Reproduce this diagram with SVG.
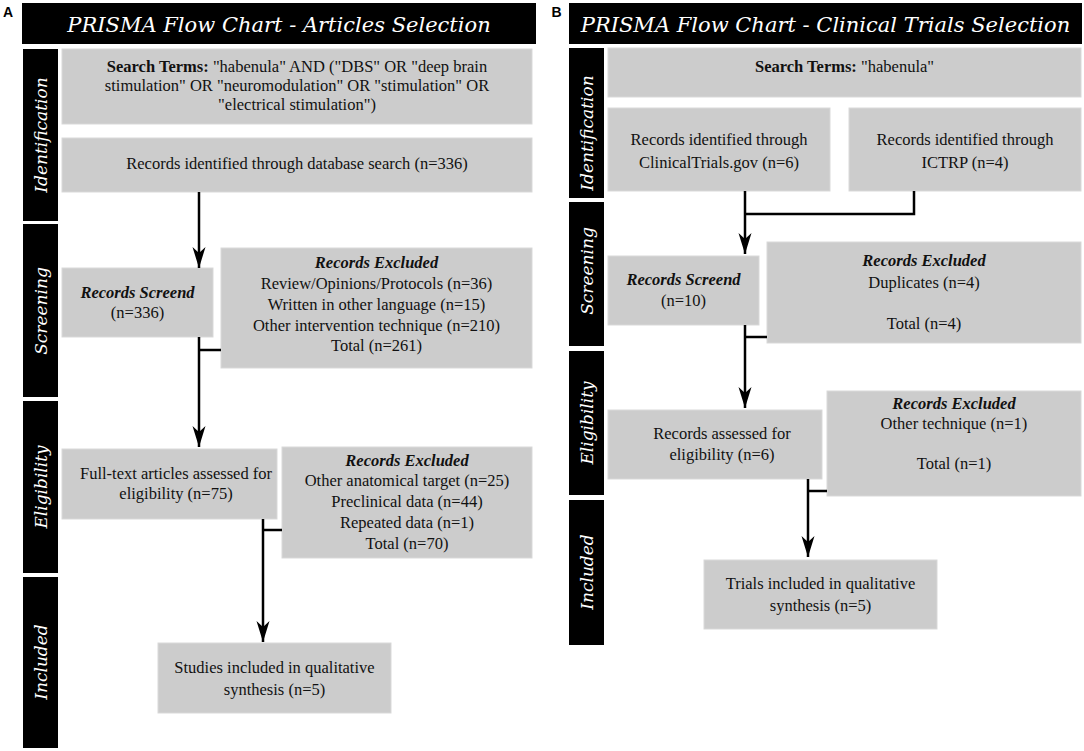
<svg xmlns="http://www.w3.org/2000/svg" width="1084" height="751" viewBox="0 0 1084 751">
<style>
.bg{fill:#ffffff}
.box{fill:#cccccc;stroke:#d9d9d9;stroke-width:1}
.bar{fill:#000000}
.t{font-family:"Liberation Serif","Times New Roman",serif;font-size:16.5px;fill:#111111;text-anchor:middle}
.b{font-weight:bold}
.h{font-weight:bold;font-style:italic}
.title{font-family:"DejaVu Serif",serif;font-style:italic;font-size:21px;fill:#ffffff;text-anchor:middle}
.side{font-family:"DejaVu Serif",serif;font-style:italic;font-size:17px;fill:#ffffff;text-anchor:middle}
.letter{font-family:"Liberation Sans",Arial,sans-serif;font-weight:bold;font-size:14px;fill:#000000;text-anchor:middle}
.conn{stroke:#000000;stroke-width:2.5;fill:none}
</style>
<defs>
<marker id="arr" markerUnits="userSpaceOnUse" markerWidth="22" markerHeight="16" viewBox="-21 -8 22 16" refX="0" refY="0" orient="auto">
<path d="M0,0 L-21,-6.5 L-15,0 L-21,6.5 Z" fill="#000000"/>
</marker>
</defs>
<rect class="bg" x="0" y="0" width="1084" height="751"/>

<!-- Panel A -->
<g id="labelA"><text class="letter" x="8" y="17">A</text></g>
<g id="titleA">
<rect class="bar" x="22" y="3" width="514" height="41"/>
<text class="title" x="279" y="32">PRISMA Flow Chart - Articles Selection</text>
</g>
<g id="phaseA-identification"><rect class="bar" x="23" y="49" width="35" height="172"/><text class="side" transform="translate(47,135) rotate(-90)">Identification</text></g>
<g id="phaseA-screening"><rect class="bar" x="23" y="224" width="35" height="173"/><text class="side" transform="translate(47,311) rotate(-90)">Screening</text></g>
<g id="phaseA-eligibility"><rect class="bar" x="23" y="401" width="35" height="172"/><text class="side" transform="translate(47,487) rotate(-90)">Eligibility</text></g>
<g id="phaseA-included"><rect class="bar" x="23" y="577" width="35" height="171"/><text class="side" transform="translate(47,662) rotate(-90)">Included</text></g>

<g id="A-search">
<rect class="box" x="62" y="49" width="470" height="75"/>
<text class="t" x="297" y="72"><tspan class="b">Search Terms:</tspan> "habenula" AND ("DBS" OR "deep brain</text>
<text class="t" x="297" y="91">stimulation" OR "neuromodulation" OR "stimulation" OR</text>
<text class="t" x="297" y="110">"electrical stimulation")</text>
</g>
<g id="A-identified">
<rect class="box" x="62" y="138" width="470" height="54"/>
<text class="t" x="297" y="169">Records identified through database search (n=336)</text>
</g>
<g id="A-screened">
<rect class="box" x="62" y="268" width="151" height="69"/>
<text class="t h" x="137.5" y="298">Records Screend</text>
<text class="t" x="137.5" y="318">(n=336)</text>
</g>
<g id="A-excluded1">
<rect class="box" x="221" y="248" width="311" height="120"/>
<text class="t h" x="376.5" y="268">Records Excluded</text>
<text class="t" x="376.5" y="289">Review/Opinions/Protocols (n=36)</text>
<text class="t" x="376.5" y="310">Written in other language (n=15)</text>
<text class="t" x="376.5" y="331">Other intervention technique (n=210)</text>
<text class="t" x="376.5" y="351">Total (n=261)</text>
</g>
<g id="A-fulltext">
<rect class="box" x="62" y="449" width="215" height="70"/>
<text class="t" x="176" y="479">Full-text articles assessed for</text>
<text class="t" x="176" y="499">eligibility (n=75)</text>
</g>
<g id="A-excluded2">
<rect class="box" x="282" y="447" width="250" height="111"/>
<text class="t h" x="407" y="466">Records Excluded</text>
<text class="t" x="407" y="486">Other anatomical target (n=25)</text>
<text class="t" x="407" y="507">Preclinical data (n=44)</text>
<text class="t" x="407" y="528">Repeated data (n=1)</text>
<text class="t" x="407" y="549">Total (n=70)</text>
</g>
<g id="A-included">
<rect class="box" x="158" y="643" width="233" height="70"/>
<text class="t" x="274.5" y="673">Studies included in qualitative</text>
<text class="t" x="274.5" y="695">synthesis (n=5)</text>
</g>

<!-- Panel B -->
<g id="labelB"><text class="letter" x="556.5" y="16.5">B</text></g>
<g id="titleB">
<rect class="bar" x="569" y="3" width="513" height="41"/>
<text class="title" x="825.5" y="32">PRISMA Flow Chart - Clinical Trials Selection</text>
</g>
<g id="phaseB-identification"><rect class="bar" x="569" y="48" width="35" height="150"/><text class="side" transform="translate(593,133) rotate(-90)">Identification</text></g>
<g id="phaseB-screening"><rect class="bar" x="569" y="202" width="35" height="144"/><text class="side" transform="translate(593,271) rotate(-90)">Screening</text></g>
<g id="phaseB-eligibility"><rect class="bar" x="569" y="351" width="35" height="144"/><text class="side" transform="translate(593,423) rotate(-90)">Eligibility</text></g>
<g id="phaseB-included"><rect class="bar" x="569" y="500" width="35" height="145"/><text class="side" transform="translate(593,572) rotate(-90)">Included</text></g>

<g id="B-search">
<rect class="box" x="608" y="48" width="473" height="49"/>
<text class="t" x="844.5" y="72"><tspan class="b">Search Terms:</tspan> "habenula"</text>
</g>
<g id="B-clinicaltrials">
<rect class="box" x="608" y="108" width="222" height="83"/>
<text class="t" x="719" y="145">Records identified through</text>
<text class="t" x="719" y="168">ClinicalTrials.gov (n=6)</text>
</g>
<g id="B-ictrp">
<rect class="box" x="849" y="108" width="232" height="83"/>
<text class="t" x="965" y="145">Records identified through</text>
<text class="t" x="965" y="168">ICTRP (n=4)</text>
</g>
<g id="B-screened">
<rect class="box" x="608" y="256" width="151" height="69"/>
<text class="t h" x="683.5" y="285">Records Screend</text>
<text class="t" x="683.5" y="306">(n=10)</text>
</g>
<g id="B-excluded1">
<rect class="box" x="767" y="242" width="314" height="101"/>
<text class="t h" x="924" y="266">Records Excluded</text>
<text class="t" x="924" y="288">Duplicates (n=4)</text>
<text class="t" x="924" y="329">Total (n=4)</text>
</g>
<g id="B-eligibility">
<rect class="box" x="608" y="410" width="214" height="69"/>
<text class="t" x="722" y="439">Records assessed for</text>
<text class="t" x="722" y="460">eligibility (n=6)</text>
</g>
<g id="B-excluded2">
<rect class="box" x="827" y="391" width="254" height="105"/>
<text class="t h" x="954" y="409">Records Excluded</text>
<text class="t" x="954" y="429">Other technique (n=1)</text>
<text class="t" x="954" y="469">Total (n=1)</text>
</g>
<g id="B-included">
<rect class="box" x="704" y="560" width="233" height="69"/>
<text class="t" x="820.5" y="589">Trials included in qualitative</text>
<text class="t" x="820.5" y="611">synthesis (n=5)</text>
</g>

<g id="connectors">
<path class="conn" d="M199,192 V268" marker-end="url(#arr)"/>
<path class="conn" d="M199,337 V447" marker-end="url(#arr)"/>
<path class="conn" d="M199,350 H221"/>
<path class="conn" d="M263,519 V642" marker-end="url(#arr)"/>
<path class="conn" d="M263,530 H282"/>
<path class="conn" d="M745,191 V254" marker-end="url(#arr)"/>
<path class="conn" d="M914,191 V214 H745"/>
<path class="conn" d="M745,325 V408" marker-end="url(#arr)"/>
<path class="conn" d="M745,337 H767"/>
<path class="conn" d="M808,479 V557" marker-end="url(#arr)"/>
<path class="conn" d="M808,491 H827"/>
</g>
</svg>
